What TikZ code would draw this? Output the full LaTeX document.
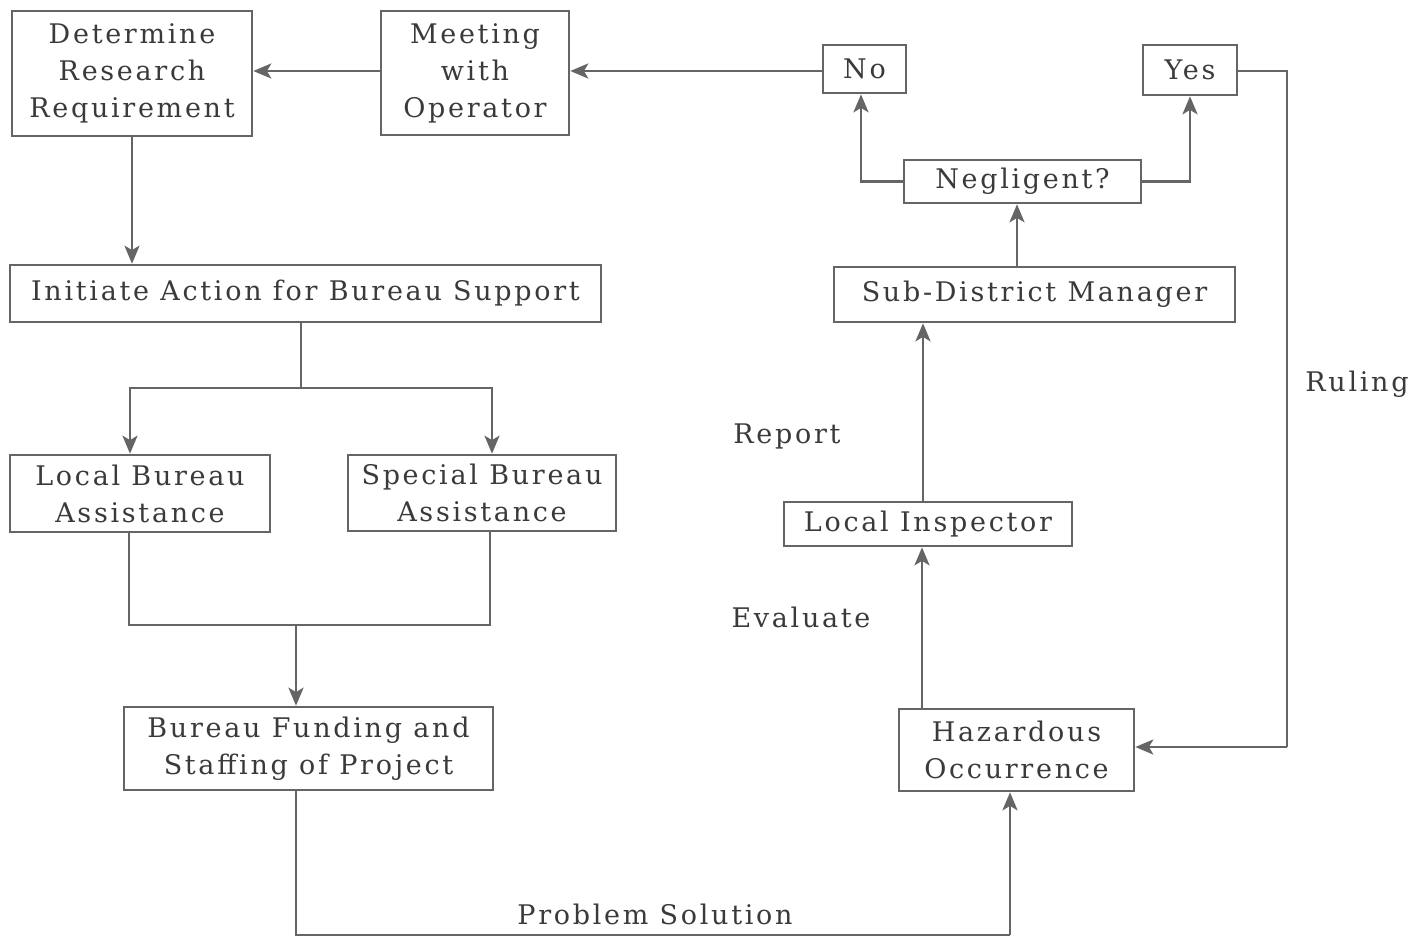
\documentclass[tikz,border=0pt]{standalone}
\usepackage{fontspec}
\setmainfont{DejaVu Serif}[LetterSpace=10]
\usetikzlibrary{arrows.meta}
\definecolor{linec}{HTML}{656565}
\definecolor{textc}{HTML}{3A3A3A}
\begin{document}
\begin{tikzpicture}[x=0.5pt,y=-0.5pt,
  every node/.style={text=textc,font=\fontsize{13.5}{18.5}\selectfont},
  box/.style={draw=linec,line width=1.3pt,inner sep=0pt,align=center},
  link/.style={draw=linec,line width=1.4pt},
  arr/.style={link,-{Stealth[length=9pt,width=7.5pt,inset=2.2pt]}},
  tag/.style={inner sep=0pt}]
\useasboundingbox (0,0) rectangle (1426,939);

% process boxes
\node[box,minimum width=120pt,minimum height=62.5pt] (det) at (132,73.5) {Determine\\Research\\Requirement};
\node[box,minimum width=94pt,minimum height=62pt] (meet) at (475,73) {Meeting\\with\\Operator};
\node[box,minimum width=41.5pt,minimum height=24pt] (no) at (864.5,69) {No};
\node[box,minimum width=47pt,minimum height=25pt] (yes) at (1190,70) {Yes};
\node[box,minimum width=118.5pt,minimum height=21.5pt] (neg) at (1022.5,181.5) {Negligent?};
\node[box,minimum width=200.5pt,minimum height=27.5pt] (sdm) at (1034.5,294.5) {Sub-District Manager};
\node[box,minimum width=295.5pt,minimum height=28.5pt] (init) at (305.5,293.5) {Initiate Action for Bureau Support};
\node[box,minimum width=130pt,minimum height=38.5pt] (lba) at (140,493.5) {Local Bureau\\Assistance};
\node[box,minimum width=134pt,minimum height=38pt] (sba) at (482,493) {Special Bureau\\Assistance};
\node[box,minimum width=144pt,minimum height=22pt] (li) at (928,524) {Local Inspector};
\node[box,minimum width=117.5pt,minimum height=41pt] (haz) at (1016.5,750) {Hazardous\\Occurrence};
\node[box,minimum width=184.5pt,minimum height=41.5pt] (bfs) at (308.5,748.5) {Bureau Funding and\\Staffing of Project};

% connector labels
\node[tag] (lreport) at (787,436) {Report};
\node[tag] (leval) at (801,617) {Evaluate};
\node[tag] (lruling) at (1357,384) {Ruling};
\node[tag] (lsol) at (655,914) {Problem Solution};

% bend points
\coordinate (split) at (301,388);
\coordinate (merge) at (296,625);
\coordinate (sol1) at (296,935);
\coordinate (sol2) at (1010,935);
\coordinate (rule1) at (1287,71);
\coordinate (rule2) at (1287,747);
\coordinate (nobend) at (861,181.5);
\coordinate (yesbend) at (1190,181.5);

% top row
\draw[arr] (no.west |- 0,71) -- (meet.east |- 0,71);
\draw[arr] (meet.west |- 0,71) -- (det.east |- 0,71);
\draw[arr] (det.south) -- (det.south |- init.north);

% bureau support branches
\draw[link] (init.south -| split) -- (split);
\draw[arr] (split) -| (lba.north -| 130,0);
\draw[arr] (split) -| (sba.north -| 492,0);
\draw[link] (lba.south -| 129,0) |- (merge);
\draw[link] (sba.south -| 490,0) |- (merge);
\draw[arr] (merge) -- (merge |- bfs.north);

% problem solution loop
\draw[link] (bfs.south -| sol1) -- (sol1) -- (sol2);
\draw[arr] (sol2) -- (sol2 |- haz.south);

% reporting chain
\draw[arr] (haz.north -| 922,0) -- (li.south -| 922,0);
\draw[arr] (li.north -| 923,0) -- (sdm.south -| 923,0);
\draw[arr] (sdm.north -| 1017,0) -- (neg.south -| 1017,0);
\draw[arr] (neg.west) -- (nobend) -- (no.south -| nobend);
\draw[arr] (neg.east) -- (yesbend) -- (yes.south -| yesbend);

% ruling feedback
\draw[link] (yes.east |- rule1) -- (rule1) -- (rule2);
\draw[arr] (rule2) -- (rule2 -| haz.east);
\end{tikzpicture}
\end{document}
